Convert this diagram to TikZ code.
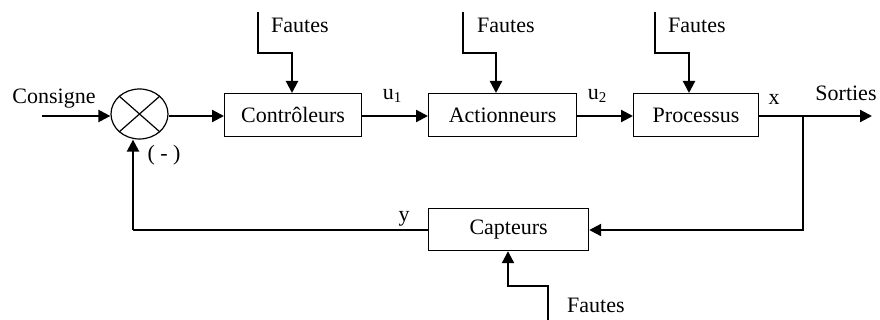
\documentclass[tikz,border=0pt]{standalone}
\usepackage{fontspec}
\setmainfont{Liberation Serif}
\usetikzlibrary{arrows.meta,shapes.geometric}
\begin{document}
\begin{tikzpicture}[x=1pt,y=-1pt,
  every node/.style={font=\fontsize{22}{26}\selectfont, inner sep=0pt},
  blk/.style={draw, line width=1.2pt, minimum height=43pt, anchor=north west},
  sig/.style={line width=2.2pt, -{Triangle[length=12pt,width=12pt]}},
  thin/.style={line width=1.2pt},
  lbl/.style={anchor=base west}]
\useasboundingbox (0,0) rectangle (880,320);
% blocks
\node[blk, minimum width=137pt] (ctrl) at (224,93) {};
\node at (ctrl.center) {Contrôleurs};
\node[blk, minimum width=148pt] (act) at (428,93) {};
\node at (act.center) {Actionneurs};
\node[blk, minimum width=125pt] (proc) at (633,93) {};
\node at (proc.center) {Processus};
\node[blk, minimum width=160pt, minimum height=42pt] (capt) at (428,208) {};
\node at (capt.center) {Capteurs};
% summing junction
\node[draw, ellipse, line width=1.2pt, minimum width=57pt, minimum height=50pt] (sum) at (139.5,114) {};
\draw[line width=1.2pt] (sum.north west) -- (sum.south east) (sum.north east) -- (sum.south west);
% coordinates
\coordinate (cin) at (42,116);
\coordinate (sout) at (872,116);
\coordinate (br) at (803,116);
\coordinate (brd) at (803,230);
\coordinate (yl) at (133,230);
\coordinate (f1a) at (258,12); \coordinate (f1b) at (258,53); \coordinate (f1c) at (292,53);
\coordinate (f2a) at (463,12); \coordinate (f2b) at (463,53); \coordinate (f2c) at (496,53);
\coordinate (f3a) at (655,12); \coordinate (f3b) at (655,53); \coordinate (f3c) at (689,53);
\coordinate (f4a) at (548,320); \coordinate (f4b) at (548,286); \coordinate (f4c) at (508,286);
% main chain
\draw[sig] (cin) -- (sum.west |- cin);
\draw[sig] (sum.east |- cin) -- (ctrl.west |- cin);
\draw[sig] (ctrl.east |- cin) -- (act.west |- cin);
\draw[sig] (act.east |- cin) -- (proc.west |- cin);
\draw[sig] (proc.east |- cin) -- (sout);
% feedback
\draw[sig] (br) -- (brd) -- (capt.east |- brd);
\draw[thin] (capt.west |- yl) -- (yl);
\draw[sig] (yl) -- (sum.south -| yl);
% faults
\draw[sig] (f1a) -- (f1b) -- (f1c) -- (ctrl.north -| f1c);
\draw[sig] (f2a) -- (f2b) -- (f2c) -- (act.north -| f2c);
\draw[sig] (f3a) -- (f3b) -- (f3c) -- (proc.north -| f3c);
\draw[sig] (f4a) -- (f4b) -- (f4c) -- (capt.south -| f4c);
% labels
\node (lcons) at (54,99) {Consigne};
\node (lminus) at (164,155) {( - )};
\node (lu1) at (392,96) {u\raisebox{-0.35ex}{\fontsize{15}{15}\selectfont 1}};
\node (lu2) at (597,96) {u\raisebox{-0.35ex}{\fontsize{15}{15}\selectfont 2}};
\node (lx) at (774,99) {x};
\node (lsort) at (846,93) {Sorties};
\node (ly) at (404,219) {y};
\node[anchor=west] (lf1) at (271,25) {Fautes};
\node[anchor=west] (lf2) at (477,25) {Fautes};
\node[anchor=west] (lf3) at (668,25) {Fautes};
\node[anchor=west] (lf4) at (567,305) {Fautes};
\end{tikzpicture}
\end{document}
